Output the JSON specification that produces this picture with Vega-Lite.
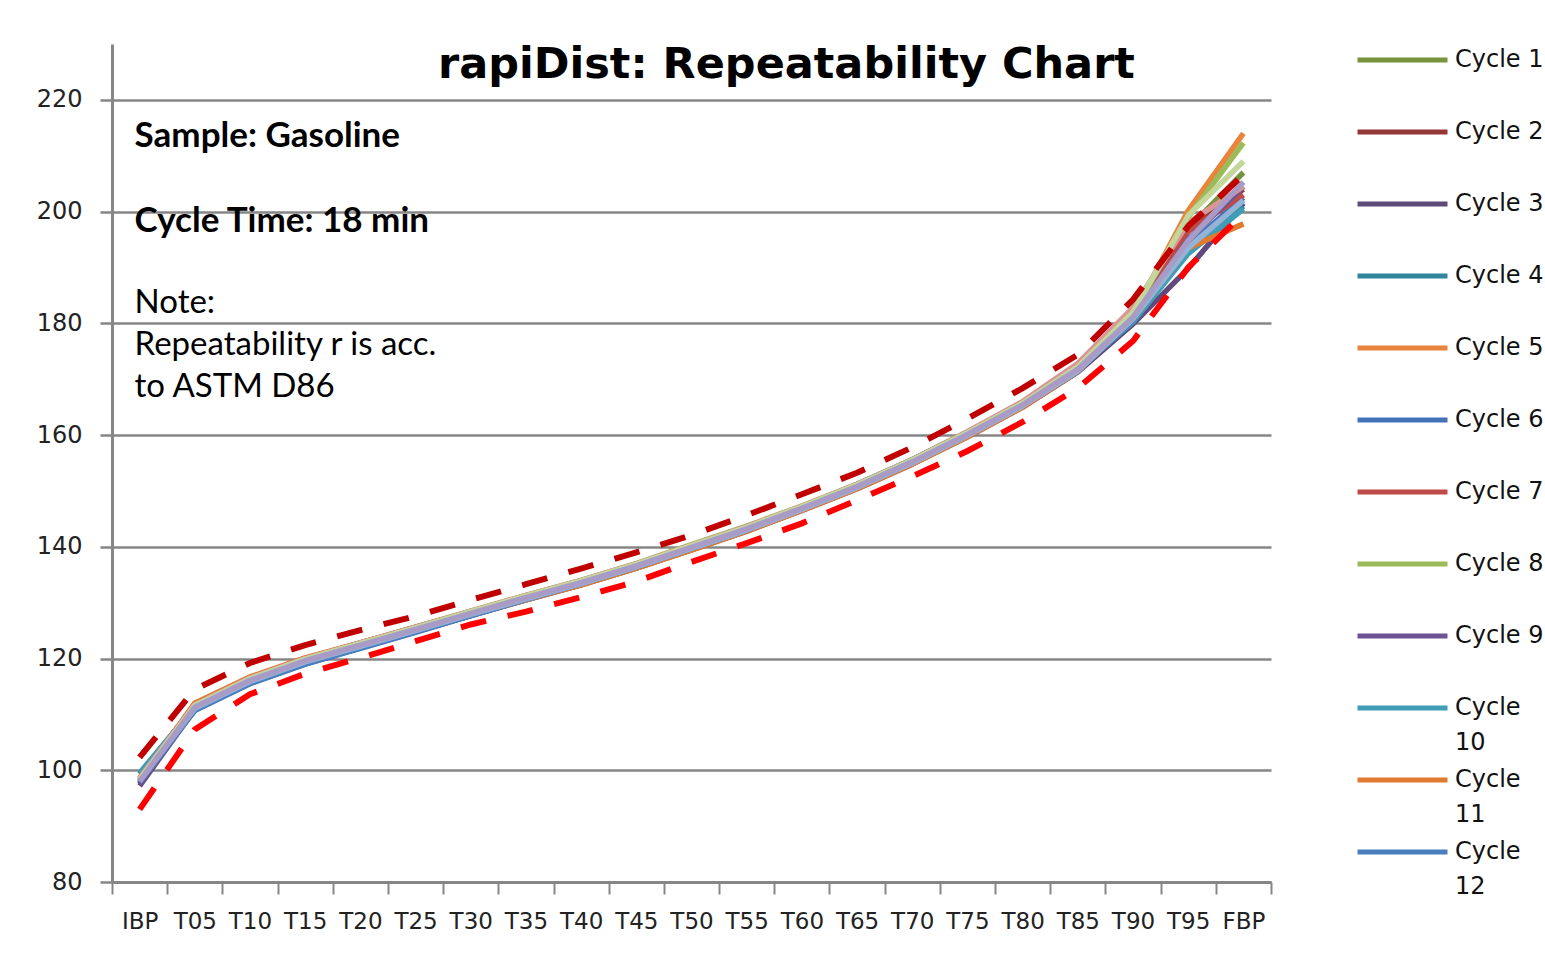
{
  "$schema": "https://vega.github.io/schema/vega-lite/v6.json",
  "width": 1159,
  "height": 838,
  "autosize": "none",
  "padding": {"left": 112, "top": 44, "right": 274, "bottom": 74},
  "background": "white",
  "config": {
    "view": {"stroke": null},
    "axisX": {"labelFont": "DejaVu Sans", "labelFontSize": 23, "labelColor": "#222222", "tickColor": "#868686", "tickWidth": 2, "tickSize": 12, "domainColor": "#868686", "domainWidth": 3, "labelPadding": 16, "labelAngle": 0, "tickBand": "extent", "grid": false, "labelOverlap": false, "labelBound": false, "labelFlush": false},
    "axisY": {"labelFont": "DejaVu Sans", "labelFontSize": 24, "labelColor": "#222222", "tickColor": "#868686", "tickWidth": 2.5, "tickSize": 12, "domainColor": "#868686", "domainWidth": 3, "gridColor": "#868686", "gridWidth": 2.5, "labelPadding": 18, "labelOverlap": false, "labelBound": false, "labelFlush": false}
  },
  "title": {"text": "rapiDist: Repeatability Chart", "font": "DejaVu Sans", "fontSize": 43, "fontWeight": "bold", "color": "#000000", "anchor": "middle", "frame": "group", "dx": 95, "dy": 86, "offset": 0, "baseline": "alphabetic"},
  "datasets": {
    "dist": [
      {"t": "IBP", "Cycle 1": 98.4, "Cycle 2": 97.6, "Cycle 3": 97.2, "Cycle 4": 99.3, "Cycle 5": 98.0, "Cycle 6": 97.8, "Cycle 7": 98.6, "Cycle 8": 98.2, "Cycle 9": 97.5, "Cycle 10": 99.5, "Cycle 11": 98.3, "Cycle 12": 97.9, "Cycle 13": 98.1, "Cycle 14": 98.6, "Cycle 15": 98.3, "Cycle 16": 98.0, "upper": 102.3, "lower": 93.0},
      {"t": "T05", "Cycle 1": 111.6, "Cycle 2": 111.7, "Cycle 3": 110.9, "Cycle 4": 111.4, "Cycle 5": 111.9, "Cycle 6": 110.8, "Cycle 7": 111.8, "Cycle 8": 111.7, "Cycle 9": 111.0, "Cycle 10": 111.3, "Cycle 11": 112.0, "Cycle 12": 110.7, "Cycle 13": 111.1, "Cycle 14": 111.7, "Cycle 15": 111.6, "Cycle 16": 111.3, "upper": 114.5, "lower": 107.3},
      {"t": "T10", "Cycle 1": 116.4, "Cycle 2": 116.5, "Cycle 3": 115.7, "Cycle 4": 116.1, "Cycle 5": 116.6, "Cycle 6": 115.6, "Cycle 7": 116.5, "Cycle 8": 116.4, "Cycle 9": 115.8, "Cycle 10": 116.0, "Cycle 11": 116.7, "Cycle 12": 115.5, "Cycle 13": 115.9, "Cycle 14": 116.5, "Cycle 15": 116.4, "Cycle 16": 116.1, "upper": 119.2, "lower": 113.6},
      {"t": "T15", "Cycle 1": 119.9, "Cycle 2": 120.0, "Cycle 3": 119.2, "Cycle 4": 119.6, "Cycle 5": 120.0, "Cycle 6": 119.0, "Cycle 7": 119.9, "Cycle 8": 119.9, "Cycle 9": 119.3, "Cycle 10": 119.6, "Cycle 11": 120.1, "Cycle 12": 119.0, "Cycle 13": 119.4, "Cycle 14": 120.0, "Cycle 15": 119.9, "Cycle 16": 119.6, "upper": 122.4, "lower": 117.3},
      {"t": "T20", "Cycle 1": 122.7, "Cycle 2": 122.8, "Cycle 3": 122.0, "Cycle 4": 122.4, "Cycle 5": 122.7, "Cycle 6": 121.8, "Cycle 7": 122.7, "Cycle 8": 122.7, "Cycle 9": 122.1, "Cycle 10": 122.4, "Cycle 11": 122.8, "Cycle 12": 121.9, "Cycle 13": 122.2, "Cycle 14": 122.8, "Cycle 15": 122.7, "Cycle 16": 122.4, "upper": 125.1, "lower": 120.1},
      {"t": "T25", "Cycle 1": 125.5, "Cycle 2": 125.6, "Cycle 3": 124.8, "Cycle 4": 125.2, "Cycle 5": 125.4, "Cycle 6": 124.7, "Cycle 7": 125.5, "Cycle 8": 125.6, "Cycle 9": 124.9, "Cycle 10": 125.2, "Cycle 11": 125.5, "Cycle 12": 124.8, "Cycle 13": 125.0, "Cycle 14": 125.6, "Cycle 15": 125.5, "Cycle 16": 125.2, "upper": 127.6, "lower": 123.1},
      {"t": "T30", "Cycle 1": 128.4, "Cycle 2": 128.4, "Cycle 3": 127.7, "Cycle 4": 128.1, "Cycle 5": 127.9, "Cycle 6": 127.7, "Cycle 7": 128.4, "Cycle 8": 128.5, "Cycle 9": 127.8, "Cycle 10": 128.2, "Cycle 11": 127.9, "Cycle 12": 127.7, "Cycle 13": 127.9, "Cycle 14": 128.5, "Cycle 15": 128.4, "Cycle 16": 128.1, "upper": 130.5, "lower": 126.1},
      {"t": "T35", "Cycle 1": 131.2, "Cycle 2": 131.2, "Cycle 3": 130.5, "Cycle 4": 130.9, "Cycle 5": 130.6, "Cycle 6": 130.5, "Cycle 7": 131.1, "Cycle 8": 131.3, "Cycle 9": 130.6, "Cycle 10": 131.0, "Cycle 11": 130.5, "Cycle 12": 130.6, "Cycle 13": 130.7, "Cycle 14": 131.3, "Cycle 15": 131.2, "Cycle 16": 130.9, "upper": 133.3, "lower": 128.4},
      {"t": "T40", "Cycle 1": 133.9, "Cycle 2": 133.9, "Cycle 3": 133.2, "Cycle 4": 133.6, "Cycle 5": 133.2, "Cycle 6": 133.3, "Cycle 7": 133.9, "Cycle 8": 134.0, "Cycle 9": 133.3, "Cycle 10": 133.7, "Cycle 11": 133.2, "Cycle 12": 133.4, "Cycle 13": 133.4, "Cycle 14": 134.0, "Cycle 15": 133.9, "Cycle 16": 133.6, "upper": 136.1, "lower": 131.0},
      {"t": "T45", "Cycle 1": 136.9, "Cycle 2": 136.9, "Cycle 3": 136.2, "Cycle 4": 136.7, "Cycle 5": 136.2, "Cycle 6": 136.3, "Cycle 7": 136.9, "Cycle 8": 137.0, "Cycle 9": 136.3, "Cycle 10": 136.7, "Cycle 11": 136.2, "Cycle 12": 136.4, "Cycle 13": 136.4, "Cycle 14": 137.0, "Cycle 15": 136.9, "Cycle 16": 136.6, "upper": 139.0, "lower": 133.8},
      {"t": "T50", "Cycle 1": 140.2, "Cycle 2": 140.2, "Cycle 3": 139.5, "Cycle 4": 140.0, "Cycle 5": 139.5, "Cycle 6": 139.6, "Cycle 7": 140.2, "Cycle 8": 140.4, "Cycle 9": 139.6, "Cycle 10": 140.0, "Cycle 11": 139.4, "Cycle 12": 139.7, "Cycle 13": 139.7, "Cycle 14": 140.3, "Cycle 15": 140.2, "Cycle 16": 139.9, "upper": 142.1, "lower": 137.3},
      {"t": "T55", "Cycle 1": 143.5, "Cycle 2": 143.5, "Cycle 3": 142.8, "Cycle 4": 143.3, "Cycle 5": 142.8, "Cycle 6": 142.9, "Cycle 7": 143.5, "Cycle 8": 143.7, "Cycle 9": 142.9, "Cycle 10": 143.3, "Cycle 11": 142.8, "Cycle 12": 143.0, "Cycle 13": 143.0, "Cycle 14": 143.6, "Cycle 15": 143.5, "Cycle 16": 143.2, "upper": 145.65, "lower": 140.65},
      {"t": "T60", "Cycle 1": 147.2, "Cycle 2": 147.2, "Cycle 3": 146.5, "Cycle 4": 147.0, "Cycle 5": 146.6, "Cycle 6": 146.7, "Cycle 7": 147.2, "Cycle 8": 147.3, "Cycle 9": 146.6, "Cycle 10": 147.1, "Cycle 11": 146.5, "Cycle 12": 147.0, "Cycle 13": 146.7, "Cycle 14": 147.3, "Cycle 15": 147.2, "Cycle 16": 146.9, "upper": 149.4, "lower": 144.2},
      {"t": "T65", "Cycle 1": 151.1, "Cycle 2": 151.1, "Cycle 3": 150.4, "Cycle 4": 151.1, "Cycle 5": 150.5, "Cycle 6": 150.9, "Cycle 7": 151.1, "Cycle 8": 151.2, "Cycle 9": 150.5, "Cycle 10": 151.2, "Cycle 11": 150.4, "Cycle 12": 151.0, "Cycle 13": 150.6, "Cycle 14": 151.2, "Cycle 15": 151.1, "Cycle 16": 150.8, "upper": 153.25, "lower": 148.35},
      {"t": "T70", "Cycle 1": 155.5, "Cycle 2": 155.5, "Cycle 3": 154.8, "Cycle 4": 155.6, "Cycle 5": 154.9, "Cycle 6": 155.4, "Cycle 7": 155.5, "Cycle 8": 155.6, "Cycle 9": 154.9, "Cycle 10": 155.6, "Cycle 11": 154.8, "Cycle 12": 155.4, "Cycle 13": 155.0, "Cycle 14": 155.6, "Cycle 15": 155.5, "Cycle 16": 155.2, "upper": 157.8, "lower": 152.6},
      {"t": "T75", "Cycle 1": 160.4, "Cycle 2": 160.5, "Cycle 3": 159.7, "Cycle 4": 160.5, "Cycle 5": 159.8, "Cycle 6": 160.3, "Cycle 7": 160.4, "Cycle 8": 160.5, "Cycle 9": 159.8, "Cycle 10": 160.5, "Cycle 11": 159.7, "Cycle 12": 160.2, "Cycle 13": 159.9, "Cycle 14": 160.6, "Cycle 15": 160.4, "Cycle 16": 160.1, "upper": 162.95, "lower": 157.15},
      {"t": "T80", "Cycle 1": 165.7, "Cycle 2": 165.9, "Cycle 3": 165.0, "Cycle 4": 165.7, "Cycle 5": 165.1, "Cycle 6": 165.5, "Cycle 7": 165.8, "Cycle 8": 165.7, "Cycle 9": 165.1, "Cycle 10": 165.7, "Cycle 11": 165.0, "Cycle 12": 165.4, "Cycle 13": 165.2, "Cycle 14": 166.0, "Cycle 15": 165.7, "Cycle 16": 165.4, "upper": 168.4, "lower": 162.35},
      {"t": "T85", "Cycle 1": 172.1, "Cycle 2": 172.7, "Cycle 3": 171.3, "Cycle 4": 171.8, "Cycle 5": 171.7, "Cycle 6": 171.5, "Cycle 7": 172.5, "Cycle 8": 172.1, "Cycle 9": 171.4, "Cycle 10": 171.7, "Cycle 11": 171.4, "Cycle 12": 171.5, "Cycle 13": 171.5, "Cycle 14": 172.8, "Cycle 15": 172.2, "Cycle 16": 171.8, "upper": 174.4, "lower": 168.4},
      {"t": "T90", "Cycle 1": 181.4, "Cycle 2": 182.3, "Cycle 3": 179.9, "Cycle 4": 180.5, "Cycle 5": 181.6, "Cycle 6": 180.6, "Cycle 7": 182.0, "Cycle 8": 181.8, "Cycle 9": 180.8, "Cycle 10": 180.3, "Cycle 11": 180.9, "Cycle 12": 180.7, "Cycle 13": 180.8, "Cycle 14": 182.8, "Cycle 15": 182.0, "Cycle 16": 181.1, "upper": 184.25, "lower": 176.85},
      {"t": "T95", "Cycle 1": 197.0, "Cycle 2": 197.5, "Cycle 3": 189.8, "Cycle 4": 193.0, "Cycle 5": 200.2, "Cycle 6": 194.0, "Cycle 7": 196.5, "Cycle 8": 199.0, "Cycle 9": 195.0, "Cycle 10": 192.5, "Cycle 11": 193.5, "Cycle 12": 193.8, "Cycle 13": 193.5, "Cycle 14": 198.0, "Cycle 15": 199.3, "Cycle 16": 194.8, "upper": 197.4, "lower": 190.0},
      {"t": "FBP", "Cycle 1": 207.0, "Cycle 2": 204.0, "Cycle 3": 201.5, "Cycle 4": 201.0, "Cycle 5": 214.0, "Cycle 6": 202.5, "Cycle 7": 203.0, "Cycle 8": 212.3, "Cycle 9": 204.5, "Cycle 10": 200.5, "Cycle 11": 197.8, "Cycle 12": 202.0, "Cycle 13": 202.0, "Cycle 14": 204.5, "Cycle 15": 209.0, "Cycle 16": 205.3, "upper": 206.6, "lower": 199.65}
    ]
  },
  "data": {"name": "dist"},
  "encoding": {
    "x": {"field": "t", "type": "ordinal", "title": null, "sort": null,
      "scale": {"type": "band", "paddingInner": 0, "paddingOuter": 0, "domain": ["IBP", "T05", "T10", "T15", "T20", "T25", "T30", "T35", "T40", "T45", "T50", "T55", "T60", "T65", "T70", "T75", "T80", "T85", "T90", "T95", "FBP"]},
      "bandPosition": 0.5}
  },
  "layer": [
    {
      "transform": [{"fold": ["Cycle 1", "Cycle 2", "Cycle 3", "Cycle 4", "Cycle 5", "Cycle 6", "Cycle 7", "Cycle 8", "Cycle 9", "Cycle 10", "Cycle 11", "Cycle 12", "Cycle 13", "Cycle 14", "Cycle 15", "Cycle 16"], "as": ["cycle", "temp"]}],
      "mark": {"type": "line", "strokeWidth": 5.5, "strokeJoin": "round"},
      "encoding": {
        "y": {"field": "temp", "type": "quantitative", "title": null,
          "scale": {"domain": [80, 230], "nice": false, "zero": false},
          "axis": {"values": [80, 100, 120, 140, 160, 180, 200, 220], "grid": true}},
        "color": {"field": "cycle", "type": "nominal",
          "scale": {"domain": ["Cycle 1", "Cycle 2", "Cycle 3", "Cycle 4", "Cycle 5", "Cycle 6", "Cycle 7", "Cycle 8", "Cycle 9", "Cycle 10", "Cycle 11", "Cycle 12", "Cycle 13", "Cycle 14", "Cycle 15", "Cycle 16"],
            "range": ["#77933C", "#953735", "#604A7B", "#31859C", "#E8843C", "#4472B8", "#BE4B48", "#9BBB59", "#6E5394", "#3F9DB6", "#E07A30", "#4A7EBE", "#95B3D7", "#D99694", "#C3D69B", "#A89CC6"]},
          "legend": {"orient": "none", "legendX": 1265.5, "legendY": -9, "title": null, "padding": 0,
            "values": ["Cycle 1", "Cycle 2", "Cycle 3", "Cycle 4", "Cycle 5", "Cycle 6", "Cycle 7", "Cycle 8", "Cycle 9", "Cycle 10", "Cycle 11", "Cycle 12"],
            "symbolType": "M-2,0H2", "symbolSize": 2025, "symbolStrokeWidth": 5, "symbolOffset": 0,
            "labelFont": "DejaVu Sans", "labelFontSize": 24, "labelColor": "#111111", "labelOffset": 27.5, "labelLimit": 400, "labelBaseline": "middle",
            "rowPadding": -3,
            "labelExpr": "datum.label == 'Cycle 10' || datum.label == 'Cycle 11' || datum.label == 'Cycle 12' ? ['Cycle', substring(datum.label, 6)] : [datum.label, '']",
            "encode": {"labels": {"update": {"lineHeight": {"value": 35}}}}}
        }
      }
    },
    {
      "mark": {"type": "line", "strokeWidth": 6, "strokeDash": [26, 22], "color": "#C00000"},
      "encoding": {"y": {"field": "upper", "type": "quantitative", "title": null}}
    },
    {
      "mark": {"type": "line", "strokeWidth": 6, "strokeDash": [26, 22], "color": "#FF0000"},
      "encoding": {"y": {"field": "lower", "type": "quantitative", "title": null}}
    },
    {
      "data": {"values": [{}]},
      "mark": {"type": "text", "text": "Sample: Gasoline", "font": "Lato", "fontWeight": "bold", "fontSize": 35, "align": "left", "baseline": "alphabetic", "dx": -5, "color": "#000000"},
      "encoding": {"x": {"datum": "IBP"}, "y": {"datum": 211.5}}
    },
    {
      "data": {"values": [{}]},
      "mark": {"type": "text", "text": "Cycle Time: 18 min", "font": "Lato", "fontWeight": "bold", "fontSize": 35, "align": "left", "baseline": "alphabetic", "dx": -5, "color": "#000000"},
      "encoding": {"x": {"datum": "IBP"}, "y": {"datum": 196.4}}
    },
    {
      "data": {"values": [{}]},
      "mark": {"type": "text", "text": ["Note:", "Repeatability r is acc.", "to ASTM D86"], "font": "Lato", "fontSize": 33, "align": "left", "baseline": "alphabetic", "lineHeight": 41.7, "dx": -5, "color": "#000000"},
      "encoding": {"x": {"datum": "IBP"}, "y": {"datum": 181.8}}
    }
  ]
}
